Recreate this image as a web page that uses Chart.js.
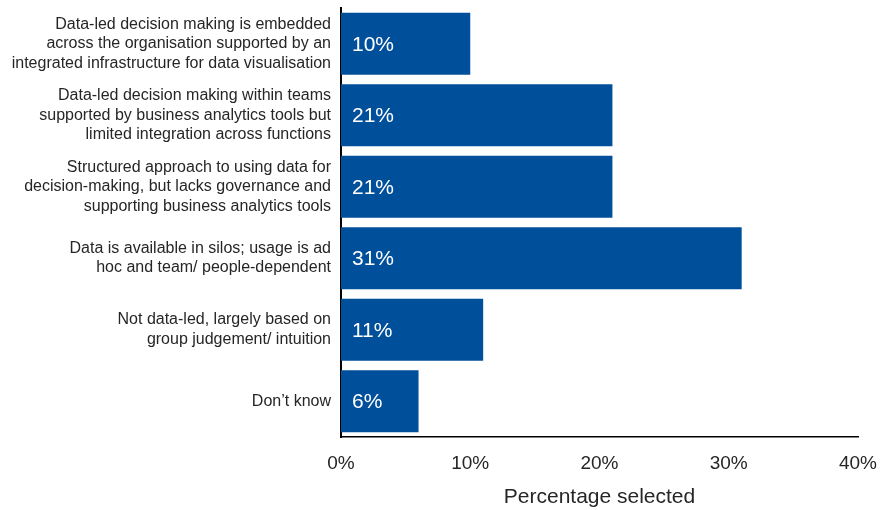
<!DOCTYPE html>
<html>
<head>
<meta charset="utf-8">
<script src="https://cdn.jsdelivr.net/npm/chart.js@4.4.1/dist/chart.umd.min.js"></script>
<style>
  html, body { margin: 0; padding: 0; background: #fff; }
  #wrap { width: 880px; height: 510px; }
</style>
</head>
<body>
<div id="wrap"><canvas id="chart" width="880" height="510"></canvas></div>
<script>
// categories (top to bottom)
const categories = [
    ['Data-led decision making is embedded', 'across the organisation supported by an', 'integrated infrastructure for data visualisation'],
    ['Data-led decision making within teams', 'supported by business analytics tools but', 'limited integration across functions'],
    ['Structured approach to using data for', 'decision-making, but lacks governance and', 'supporting business analytics tools'],
    ['Data is available in silos; usage is ad', 'hoc and team/ people-dependent'],
    ['Not data-led, largely based on', 'group judgement/ intuition'],
    ["Don\u2019t know"]
];
const shares = [10, 21, 21, 31, 11, 6];
const xTicks = [0, 10, 20, 30, 40];

const BAR_BLUE = '#004f9a';
const TEXT = '#262626';
const FONT = "'Liberation Sans', Arial, sans-serif";

// write the % value inside each bar, near its left end
const barLabels = {
    id: 'barLabels',
    afterDatasetsDraw(chart) {
        const ctx = chart.ctx;
        const meta = chart.getDatasetMeta(0);
        ctx.save();
        ctx.font = '21px ' + FONT;
        ctx.fillStyle = '#ffffff';
        ctx.textAlign = 'left';
        ctx.textBaseline = 'middle';
        meta.data.forEach((bar, i) => {
            ctx.fillText(shares[i] + '%', bar.base + 11, bar.y + 1);
        });
        ctx.restore();
    }
};

const ctx = document.getElementById('chart').getContext('2d');
new Chart(ctx, {
    type: 'bar',
    data: {
        labels: categories,
        datasets: [{
            data: shares,
            backgroundColor: BAR_BLUE,
            borderWidth: 0,
            barPercentage: 0.87,
            categoryPercentage: 1.0
        }]
    },
    options: {
        indexAxis: 'y',
        responsive: false,
        animation: false,
        layout: { padding: { top: 8, right: 22, left: 0, bottom: 0 } },
        plugins: {
            legend: { display: false },
            tooltip: { enabled: false }
        },
        scales: {
            x: {
                min: 0,
                max: 40,
                afterBuildTicks: (scale) => { scale.ticks = xTicks.map(v => ({ value: v })); },
                grid: { display: false, drawTicks: false },
                border: { display: true, color: '#000', width: 1.5 },
                ticks: {
                    padding: 15,
                    color: TEXT,
                    font: { family: FONT, size: 19 },
                    maxRotation: 0,
                    callback: (v) => v + '%'
                },
                title: {
                    display: true,
                    text: 'Percentage selected',
                    color: TEXT,
                    font: { family: FONT, size: 21 },
                    padding: { top: 13, bottom: 0 }
                },
                afterFit: (scale) => {
                    scale.height = 73;
                    scale.paddingLeft = 0;
                    scale.paddingRight = 0;
                }
            },
            y: {
                grid: { display: false, drawTicks: false },
                border: { display: true, color: '#000', width: 2 },
                ticks: {
                    padding: 10,
                    color: TEXT,
                    font: { family: FONT, size: 16, lineHeight: 1.22 }
                },
                afterFit: (scale) => {
                    scale.width = 341;
                    scale.paddingTop = 0;
                    scale.paddingBottom = 0;
                }
            }
        }
    },
    plugins: [barLabels]
});
</script>
</body>
</html>
